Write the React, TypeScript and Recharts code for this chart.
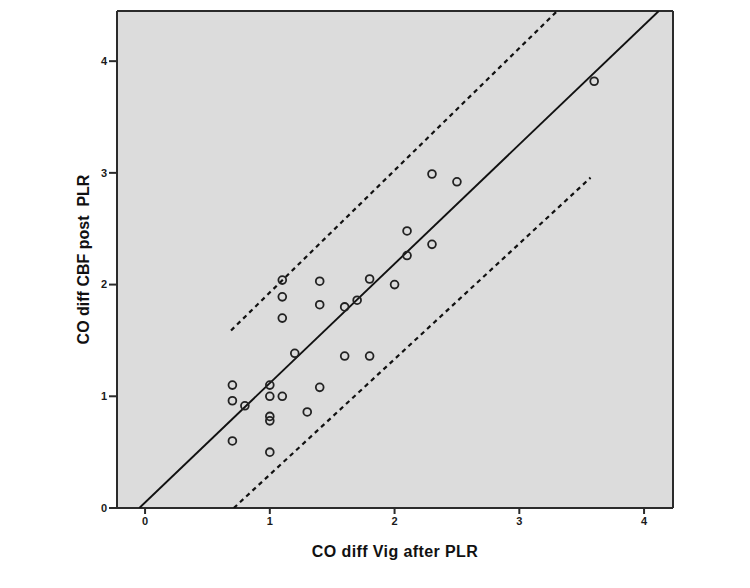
import React from "react";
import {
  ScatterChart,
  Scatter,
  XAxis,
  YAxis,
  CartesianGrid,
  Label,
} from "recharts";

// Tick values on both axes
const xTicks = [0, 1, 2, 3, 4];
const yTicks = [0, 1, 2, 3, 4];

// Observed differences in cardiac output after passive leg raising
const vigDiff = [
  0.7, 0.7, 0.8, 0.7, 1.0, 1.0, 1.1, 1.0, 1.0, 1.0,
  1.3, 1.4, 1.2, 1.1, 1.1, 1.1, 1.4, 1.4, 1.6, 1.7,
  1.8, 1.6, 1.8, 2.0, 2.1, 2.1, 2.3, 2.3, 2.5, 3.6,
];
const cbfDiff = [
  1.1, 0.96, 0.915, 0.6, 1.1, 1.0, 1.0, 0.82, 0.78, 0.5,
  0.86, 1.08, 1.385, 1.7, 1.89, 2.04, 2.03, 1.82, 1.8, 1.86,
  2.05, 1.36, 1.36, 2.0, 2.26, 2.48, 2.36, 2.99, 2.92, 3.82,
];

// Regression line and the two interval bounds (end points)
const fitX = [-0.046, 4.118];
const fitY = [0, 4.449];
const upperX = [0.689, 3.304];
const upperY = [1.589, 4.449];
const lowerX = [0.711, 3.571];
const lowerY = [0, 2.957];

const X_DOMAIN: [number, number] = [-0.225, 4.232];
const Y_DOMAIN: [number, number] = [0, 4.449];

const toPoints = (xs: number[], ys: number[]) =>
  xs.map((x, i) => ({ x, y: ys[i] }));

const observations = toPoints(vigDiff, cbfDiff);
const fitLine = toPoints(fitX, fitY);
const upperLine = toPoints(upperX, upperY);
const lowerLine = toPoints(lowerX, lowerY);

const FONT = '"Liberation Sans", Arial, sans-serif';
const FRAME = "#2b2b2b";

const OpenCircle = (props: any) => {
  const { cx, cy } = props;
  if (cx == null || cy == null) return <g />;
  return (
    <circle cx={cx} cy={cy} r={3.9} fill="none" stroke="#222" strokeWidth={1.8} />
  );
};

const NoMark = () => <g />;

const tickStyle = {
  fontSize: 11,
  fontWeight: "bold",
  fill: "#1a1a1a",
  fontFamily: FONT,
};

// Frame lines along the plot edges
const frameRows = ({ offset }: any) => [offset.top, offset.top + offset.height];
const frameCols = ({ offset }: any) => [offset.left, offset.left + offset.width];

export default function App() {
  return (
    <div
      style={{
        position: "absolute",
        left: 0,
        top: 0,
        width: 750,
        height: 588,
        background: "#fff",
      }}
    >
      <ScatterChart
        width={750}
        height={588}
        margin={{ top: 11, right: 77, bottom: 0, left: 0 }}
        style={{ fontFamily: FONT }}
      >
        <CartesianGrid
          fill="#dcdcdc"
          fillOpacity={1}
          stroke={FRAME}
          strokeWidth={2}
          horizontalCoordinatesGenerator={frameRows}
          verticalCoordinatesGenerator={frameCols}
        />
        <XAxis
          type="number"
          dataKey="x"
          domain={X_DOMAIN}
          allowDataOverflow
          ticks={xTicks}
          height={80}
          tickSize={6}
          tickMargin={3}
          tick={tickStyle}
          axisLine={{ stroke: FRAME, strokeWidth: 2 }}
          tickLine={{ stroke: FRAME, strokeWidth: 2 }}
        >
          <Label
            value="CO diff Vig after PLR"
            position="center"
            dy={3}
            style={{
              fontSize: 16,
              fontWeight: "bold",
              fill: "#111",
              fontFamily: FONT,
              letterSpacing: 0.4,
            }}
          />
        </XAxis>
        <YAxis
          type="number"
          dataKey="y"
          domain={Y_DOMAIN}
          allowDataOverflow
          ticks={yTicks}
          width={117}
          tickSize={8}
          tickMargin={2}
          tick={tickStyle}
          axisLine={{ stroke: FRAME, strokeWidth: 2 }}
          tickLine={{ stroke: FRAME, strokeWidth: 2 }}
        >
          <Label
            value={"CO diff CBF post\u00A0 PLR"}
            position="center"
            angle={-90}
            dx={25}
            style={{
              fontSize: 16,
              fontWeight: "bold",
              fill: "#111",
              fontFamily: FONT,
            }}
          />
        </YAxis>
        <Scatter
          data={lowerLine}
          shape={NoMark}
          line={{ stroke: "#111", strokeWidth: 2.2, strokeDasharray: "4.5 4" }}
          isAnimationActive={false}
          legendType="none"
        />
        <Scatter
          data={upperLine}
          shape={NoMark}
          line={{ stroke: "#111", strokeWidth: 2.2, strokeDasharray: "4.5 4" }}
          isAnimationActive={false}
          legendType="none"
        />
        <Scatter
          data={fitLine}
          shape={NoMark}
          line={{ stroke: "#111", strokeWidth: 1.9 }}
          isAnimationActive={false}
          legendType="none"
        />
        <Scatter
          data={observations}
          shape={OpenCircle}
          isAnimationActive={false}
          legendType="none"
        />
      </ScatterChart>
    </div>
  );
}
